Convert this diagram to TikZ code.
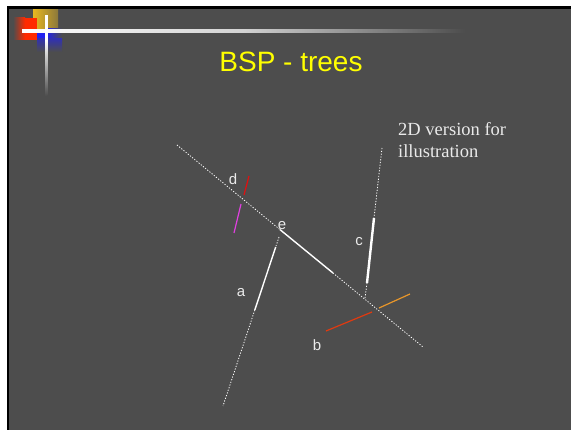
\documentclass[tikz,border=0pt]{standalone}
\usepackage{fontspec}
\setmainfont{Liberation Serif}
\setsansfont{Liberation Sans}

\definecolor{slide}{HTML}{4D4D4D}
\definecolor{titulo}{HTML}{FFFF00}
\definecolor{rojo}{HTML}{E01010}
\definecolor{rojob}{HTML}{E03A10}
\definecolor{rojologo}{HTML}{FF2A00}
\definecolor{oro}{HTML}{E8B820}
\definecolor{azul}{HTML}{2020F0}
\definecolor{naranja}{HTML}{E8962A}
\definecolor{magenta}{HTML}{E040E0}
\definecolor{texto}{HTML}{EAEAEA}

\tikzset{
  cutline/.style={white, line width=0.8pt, dash pattern=on 1.2pt off 1.6pt},
  wall/.style={white, line width=1.4pt},
  lbl/.style={text=texto, font=\sffamily\fontsize{15}{18}\selectfont, inner sep=0pt}
}

\begin{document}
\begin{tikzpicture}[x=1pt, y=-1pt]

				\useasboundingbox (0,0) rectangle (571,430);

				% Fondo
				\fill[white] (0,0) rectangle (571,430);
				\fill[black] (7,6) rectangle (571,430);
				\fill[slide] (9,9) rectangle (571,430);

				% Logo
				\shade[left color=oro, right color=oro!40!slide] (33,10) rectangle (58,30);
				\shade[left color=slide, right color=rojologo] (13,18) rectangle (25,40);
				\fill[rojologo] (25,18) rectangle (37,40);
				\fill[azul] (37,29) rectangle (46,39);
				\shade[left color=azul, right color=slide] (46,29) rectangle (62,39);
				\shade[top color=azul!60!slide, bottom color=slide] (37,39) rectangle (62,52);
				\shade[left color=white, right color=slide, middle color=white!75!slide] (22,30) rectangle (465,33);
				\fill[white] (45,15) rectangle (47.5,40);
				\shade[top color=white, bottom color=slide] (45,40) rectangle (47.5,96);

				\node[font=\sffamily\fontsize{28}{34}\selectfont, text=titulo] (head) at (291,61.5) {BSP - trees};

				\node[anchor=north west, align=left, inner sep=0pt, text=texto,
					font=\fontsize{18.5}{21.7}\selectfont] (nota) at (398,122.5) {2D version for\\illustration};

				% Linea e
				\coordinate (e0) at (177,145);
				\coordinate (e1) at (280,229.6);
				\coordinate (e2) at (333,273);
				\coordinate (e3) at (423,347);
				\draw[cutline] (e0) -- (e1);
				\draw[wall] (e1) -- (e2);
				\draw[cutline] (e2) -- (e3);
				\node[lbl] (e) at (282,226) {e};

				% Linea a
				\coordinate (a0) at (279,237);
				\coordinate (a1) at (275.7,247);
				\coordinate (a2) at (254.8,310);
				\coordinate (a3) at (223,406);
				\draw[cutline] (a0) -- (a1);
				\draw[wall] (a1) -- (a2);
				\draw[cutline] (a2) -- (a3);
				\node[lbl] (a) at (241,293) {a};

				% Linea c
				\coordinate (c0) at (382,148);
				\coordinate (c1) at (374,218);
				\coordinate (c2) at (367,283);
				\coordinate (c3) at (365,298);
				\draw[cutline] (c0) -- (c1);
				\draw[wall, line width=2.4pt] (c1) -- (c2);
				\draw[cutline] (c2) -- (c3);
				\node[lbl] (c) at (359,242) {c};

				% Linea d (partida por e)
				\coordinate (d0) at (249,176);
				\coordinate (d1) at (244,195);
				\coordinate (d2) at (241,204);
				\coordinate (d3) at (234,233);
				\draw[rojo, line width=1.2pt] (d0) -- (d1);
				\draw[magenta, line width=1.2pt] (d2) -- (d3);
				\node[lbl] (d) at (233,179) {d};

				% Linea b (partida por e)
				\coordinate (b0) at (326,331);
				\coordinate (b1) at (372,312);
				\coordinate (b2) at (379,308);
				\coordinate (b3) at (410,294);
				\draw[rojob, line width=1.2pt] (b0) -- (b1);
				\draw[naranja, line width=1.2pt] (b2) -- (b3);
				\node[lbl] (b) at (317,345) {b};

			\end{tikzpicture}
\end{document}
